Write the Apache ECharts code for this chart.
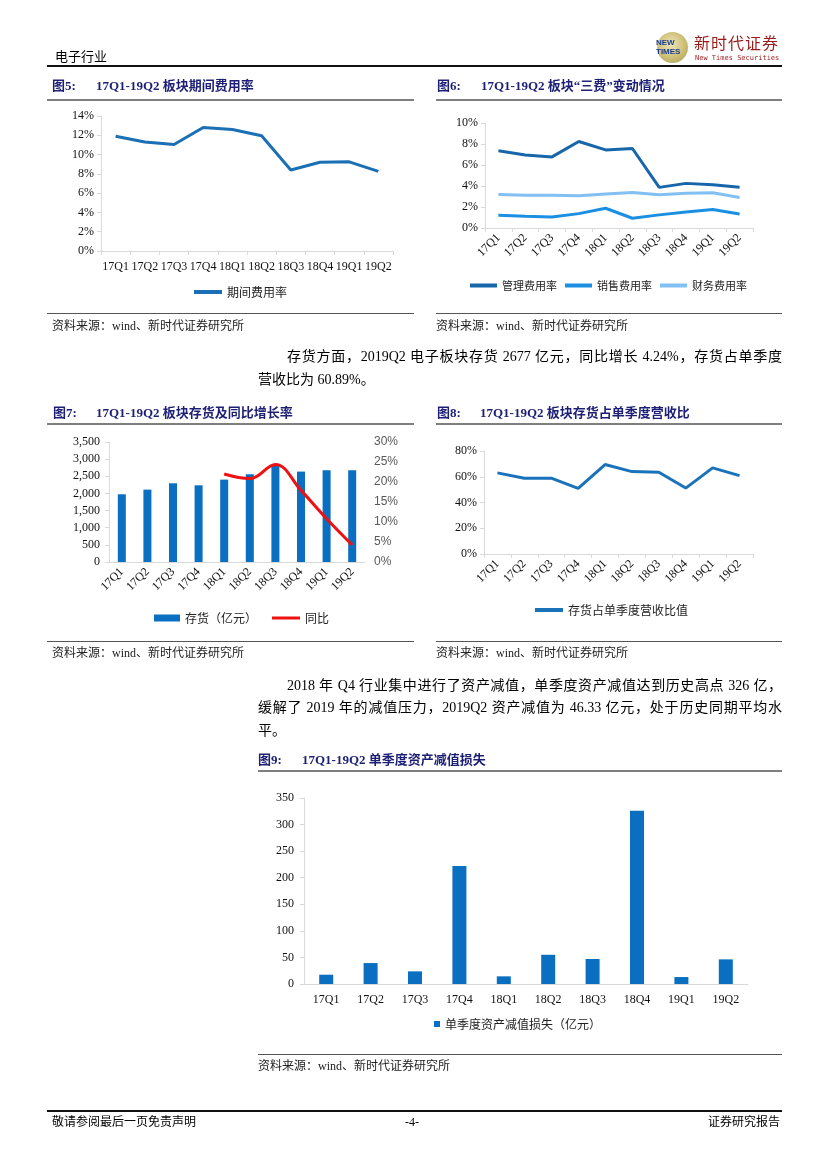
<!DOCTYPE html>
<html><head><meta charset="utf-8">
<script src="https://cdn.jsdelivr.net/npm/echarts@6/dist/echarts.min.js"></script>
<style>
body{margin:0;background:#fff;}
#page{position:relative;width:827px;height:1169px;overflow:hidden;font-family:"Liberation Serif","Noto Sans CJK SC",serif;color:#000;}
#chart{position:absolute;left:0;top:0;width:827px;height:1169px;}
.t{position:absolute;white-space:nowrap;z-index:2;}
.ln{position:absolute;z-index:2;}
.title{position:absolute;z-index:2;font-weight:bold;font-size:13px;line-height:16px;color:#1c1f75;white-space:nowrap;}
.src{position:absolute;z-index:2;font-size:12px;line-height:14px;color:#222;white-space:nowrap;}
.para{position:absolute;z-index:2;font-size:14px;line-height:18px;white-space:nowrap;color:#000;}
.just{text-align:justify;text-align-last:justify;white-space:normal;}
</style></head>
<body><div id="page">
<div id="chart"></div>

<!-- header -->
<div class="t" style="left:55px;top:49px;font-size:13px;line-height:16px;">电子行业</div>
<div class="ln" style="left:657px;top:32px;width:31px;height:31px;border-radius:50%;background:radial-gradient(circle at 45% 40%,#efe6b8,#c9b96e 60%,#8aa06a);"></div>
<div class="t" style="left:656px;top:38px;font-family:'Liberation Sans';font-size:8px;line-height:9px;color:#1a3d8f;font-weight:bold;">NEW<br>TIMES</div>
<div class="t" style="left:694px;top:35px;font-size:16px;line-height:18px;color:#9b1b1b;letter-spacing:1px;">新时代证券</div>
<div class="t" style="left:695px;top:54px;font-size:7px;line-height:8px;color:#9b1b1b;font-family:'DejaVu Sans Mono';">New Times Securities</div>
<div class="ln" style="left:47px;top:65px;width:735px;height:2px;background:#111;"></div>

<!-- fig 5/6 titles -->
<div class="title" style="left:52px;top:78px;">图5:</div>
<div class="title" style="left:96px;top:78px;">17Q1-19Q2 板块期间费用率</div>
<div class="title" style="left:437px;top:78px;">图6:</div>
<div class="title" style="left:481px;top:78px;">17Q1-19Q2 板块“三费”变动情况</div>
<div class="ln" style="left:47px;top:99px;width:367px;height:2px;background:#7f7f7f;"></div>
<div class="ln" style="left:436px;top:99px;width:346px;height:2px;background:#7f7f7f;"></div>

<div class="ln" style="left:47px;top:313px;width:367px;height:1px;background:#555;"></div>
<div class="ln" style="left:436px;top:313px;width:346px;height:1px;background:#555;"></div>
<div class="src" style="left:52px;top:319px;">资料来源：wind、新时代证券研究所</div>
<div class="src" style="left:436px;top:319px;">资料来源：wind、新时代证券研究所</div>

<!-- paragraph 1 -->
<div class="para just" style="left:287px;top:348px;width:495px;">存货方面，2019Q2 电子板块存货 2677 亿元，同比增长 4.24%，存货占单季度</div>
<div class="para" style="left:258px;top:371px;">营收比为 60.89%。</div>

<!-- fig 7/8 titles -->
<div class="title" style="left:53px;top:405px;">图7:</div>
<div class="title" style="left:96px;top:405px;">17Q1-19Q2 板块存货及同比增长率</div>
<div class="title" style="left:437px;top:405px;">图8:</div>
<div class="title" style="left:480px;top:405px;">17Q1-19Q2 板块存货占单季度营收比</div>
<div class="ln" style="left:47px;top:423px;width:367px;height:2px;background:#7f7f7f;"></div>
<div class="ln" style="left:436px;top:423px;width:346px;height:2px;background:#7f7f7f;"></div>

<div class="ln" style="left:47px;top:641px;width:367px;height:1px;background:#555;"></div>
<div class="ln" style="left:436px;top:641px;width:346px;height:1px;background:#555;"></div>
<div class="src" style="left:52px;top:646px;">资料来源：wind、新时代证券研究所</div>
<div class="src" style="left:436px;top:646px;">资料来源：wind、新时代证券研究所</div>

<!-- paragraph 2 -->
<div class="para just" style="left:287px;top:677px;width:495px;">2018 年 Q4 行业集中进行了资产减值，单季度资产减值达到历史高点 326 亿，</div>
<div class="para just" style="left:258px;top:699px;width:524px;">缓解了 2019 年的减值压力，2019Q2 资产减值为 46.33 亿元，处于历史同期平均水</div>
<div class="para" style="left:258px;top:722px;">平。</div>

<!-- fig 9 title -->
<div class="title" style="left:258px;top:752px;">图9:</div>
<div class="title" style="left:302px;top:752px;">17Q1-19Q2 单季度资产减值损失</div>
<div class="ln" style="left:258px;top:770px;width:524px;height:2px;background:#7f7f7f;"></div>

<div class="ln" style="left:258px;top:1054px;width:524px;height:1px;background:#555;"></div>
<div class="src" style="left:258px;top:1059px;">资料来源：wind、新时代证券研究所</div>

<!-- footer -->
<div class="ln" style="left:47px;top:1110px;width:735px;height:2px;background:#111;"></div>
<div class="src" style="left:52px;top:1115px;color:#000;">敬请参阅最后一页免责声明</div>
<div class="src" style="left:405px;top:1115px;color:#000;">-4-</div>
<div class="src" style="left:708px;top:1115px;color:#000;">证券研究报告</div>
</div>

<script>
// ---------- data ----------
const quarters = ['17Q1','17Q2','17Q3','17Q4','18Q1','18Q2','18Q3','18Q4','19Q1','19Q2'];
const periodExpenseRate = [11.9, 11.3, 11.05, 12.8, 12.6, 11.95, 8.4, 9.2, 9.25, 8.25];
const mgmtRate = [7.35, 6.96, 6.77, 8.24, 7.44, 7.57, 3.87, 4.25, 4.12, 3.87];
const salesRate = [1.21, 1.12, 1.05, 1.37, 1.88, 0.93, 1.25, 1.53, 1.76, 1.34];
const finRate = [3.19, 3.13, 3.13, 3.07, 3.23, 3.39, 3.16, 3.32, 3.35, 2.91];
const inventory = [1975, 2111, 2296, 2237, 2403, 2558, 2810, 2637, 2675, 2677];
const inventoryYoY = [null, null, null, null, 22.0, 20.85, 24.4, 17.9, 10.8, 4.24];
const inventoryToRevenue = [63.0, 58.9, 58.9, 50.9, 69.5, 64.0, 63.5, 51.2, 66.9, 60.89];
const impairment = [17.5, 39.4, 23.8, 222, 14.4, 55, 47, 326, 13.1, 46.33];

// ---------- styles ----------
const gray = '#d9d9d9';
const serif = 'Liberation Serif';
const cjk = 'Noto Sans CJK SC';
const lblColor = '#111';

function catAxis(gi, opts) {
  return Object.assign({
    type: 'category', gridIndex: gi, data: quarters, boundaryGap: true,
    axisLine: { show: true, lineStyle: { color: gray, width: 1 } },
    axisTick: { show: true, length: 4, lineStyle: { color: gray } },
    axisLabel: { interval: 0, margin: 10, fontFamily: serif, fontSize: 12, color: lblColor }
  }, opts || {});
}
function valAxis(gi, max, interval, fmt, opts) {
  return Object.assign({
    type: 'value', gridIndex: gi, min: 0, max: max, interval: interval,
    splitLine: { show: false },
    axisLine: { show: true, lineStyle: { color: gray } },
    axisTick: { show: true, length: 4, lineStyle: { color: gray } },
    axisLabel: { margin: 7, fontFamily: serif, fontSize: 12, color: lblColor, formatter: fmt }
  }, opts || {});
}
const legendText = { fontFamily: cjk, fontSize: 12, color: '#222' };
const rotLabel = { interval: 0, rotate: 45, margin: 8, fontFamily: serif, fontSize: 12, color: lblColor };

const option = {
  animation: false,
  grid: [
    { left: 101, top: 116, width: 292, height: 135, outerBoundsMode: 'none' },
    { left: 485, top: 123, width: 268, height: 105, outerBoundsMode: 'none' },
    { left: 109, top: 442, width: 256, height: 120, outerBoundsMode: 'none' },
    { left: 484, top: 451, width: 269, height: 103, outerBoundsMode: 'none' },
    { left: 304, top: 798, width: 444, height: 186, outerBoundsMode: 'none' }
  ],
  xAxis: [
    catAxis(0),
    catAxis(1, { axisLabel: rotLabel }),
    catAxis(2, { axisTick: { show: false }, axisLabel: rotLabel }),
    catAxis(3, { axisLabel: rotLabel }),
    catAxis(4, { axisTick: { show: false }, axisLabel: { interval: 0, margin: 10, fontFamily: serif, fontSize: 12, color: lblColor } })
  ],
  yAxis: [
    valAxis(0, 14, 2, '{value}%'),
    valAxis(1, 10, 2, '{value}%'),
    valAxis(2, 3500, 500, null, { axisLabel: { margin: 9, fontFamily: serif, fontSize: 12, color: lblColor, formatter: function (v) { return v.toLocaleString('en-US'); } } }),
    valAxis(2, 30, 5, '{value}%', { position: 'right', axisLine: { show: false }, axisTick: { show: false },
      axisLabel: { margin: 9, fontFamily: 'Liberation Sans', fontSize: 12, color: '#595959', formatter: '{value}%' } }),
    valAxis(3, 80, 20, '{value}%'),
    valAxis(4, 350, 50, '{value}', { axisLabel: { margin: 10, fontFamily: serif, fontSize: 12, color: lblColor } })
  ],
  legend: [
    { left: 189, top: 281, icon: 'rect', itemWidth: 28, itemHeight: 4, textStyle: legendText, data: ['期间费用率'] },
    { left: 465, top: 275, icon: 'rect', itemWidth: 27, itemHeight: 4, itemGap: 8, textStyle: { fontFamily: cjk, fontSize: 11, color: '#222' }, data: ['管理费用率', '销售费用率', '财务费用率'] },
    { left: 149, top: 607, icon: 'rect', itemWidth: 26, itemHeight: 7, textStyle: legendText, data: ['存货（亿元）'] },
    { left: 267, top: 607, icon: 'rect', itemWidth: 28, itemHeight: 3, textStyle: legendText, data: ['同比'] },
    { left: 530, top: 599, icon: 'rect', itemWidth: 28, itemHeight: 4, textStyle: legendText, data: ['存货占单季度营收比值'] },
    { left: 429, top: 1013, icon: 'rect', itemWidth: 6, itemHeight: 6, itemGap: 4, textStyle: legendText, data: ['单季度资产减值损失（亿元）'] }
  ],
  series: [
    { name: '期间费用率', type: 'line', xAxisIndex: 0, yAxisIndex: 0, data: periodExpenseRate, symbol: 'none',
      lineStyle: { color: '#1a6fb5', width: 3 }, itemStyle: { color: '#1a6fb5' } },
    { name: '管理费用率', type: 'line', xAxisIndex: 1, yAxisIndex: 1, data: mgmtRate, symbol: 'none',
      lineStyle: { color: '#1766aa', width: 3 }, itemStyle: { color: '#1766aa' } },
    { name: '销售费用率', type: 'line', xAxisIndex: 1, yAxisIndex: 1, data: salesRate, symbol: 'none',
      lineStyle: { color: '#1b8fe2', width: 3 }, itemStyle: { color: '#1b8fe2' } },
    { name: '财务费用率', type: 'line', xAxisIndex: 1, yAxisIndex: 1, data: finRate, symbol: 'none',
      lineStyle: { color: '#82bff2', width: 3 }, itemStyle: { color: '#82bff2' } },
    { name: '存货（亿元）', type: 'bar', xAxisIndex: 2, yAxisIndex: 2, data: inventory, barWidth: 8,
      itemStyle: { color: '#0a6fc0' } },
    { name: '同比', type: 'line', xAxisIndex: 2, yAxisIndex: 3, data: inventoryYoY, symbol: 'none', smooth: 0.4,
      lineStyle: { color: '#ee1111', width: 3 }, itemStyle: { color: '#ee1111' } },
    { name: '存货占单季度营收比值', type: 'line', xAxisIndex: 3, yAxisIndex: 4, data: inventoryToRevenue, symbol: 'none',
      lineStyle: { color: '#1a73ba', width: 3 }, itemStyle: { color: '#1a73ba' } },
    { name: '单季度资产减值损失（亿元）', type: 'bar', xAxisIndex: 4, yAxisIndex: 5, data: impairment, barWidth: 14,
      itemStyle: { color: '#0a6fc0' } }
  ]
};
const chart = echarts.init(document.getElementById('chart'));
chart.setOption(option);
</script>
</body></html>
